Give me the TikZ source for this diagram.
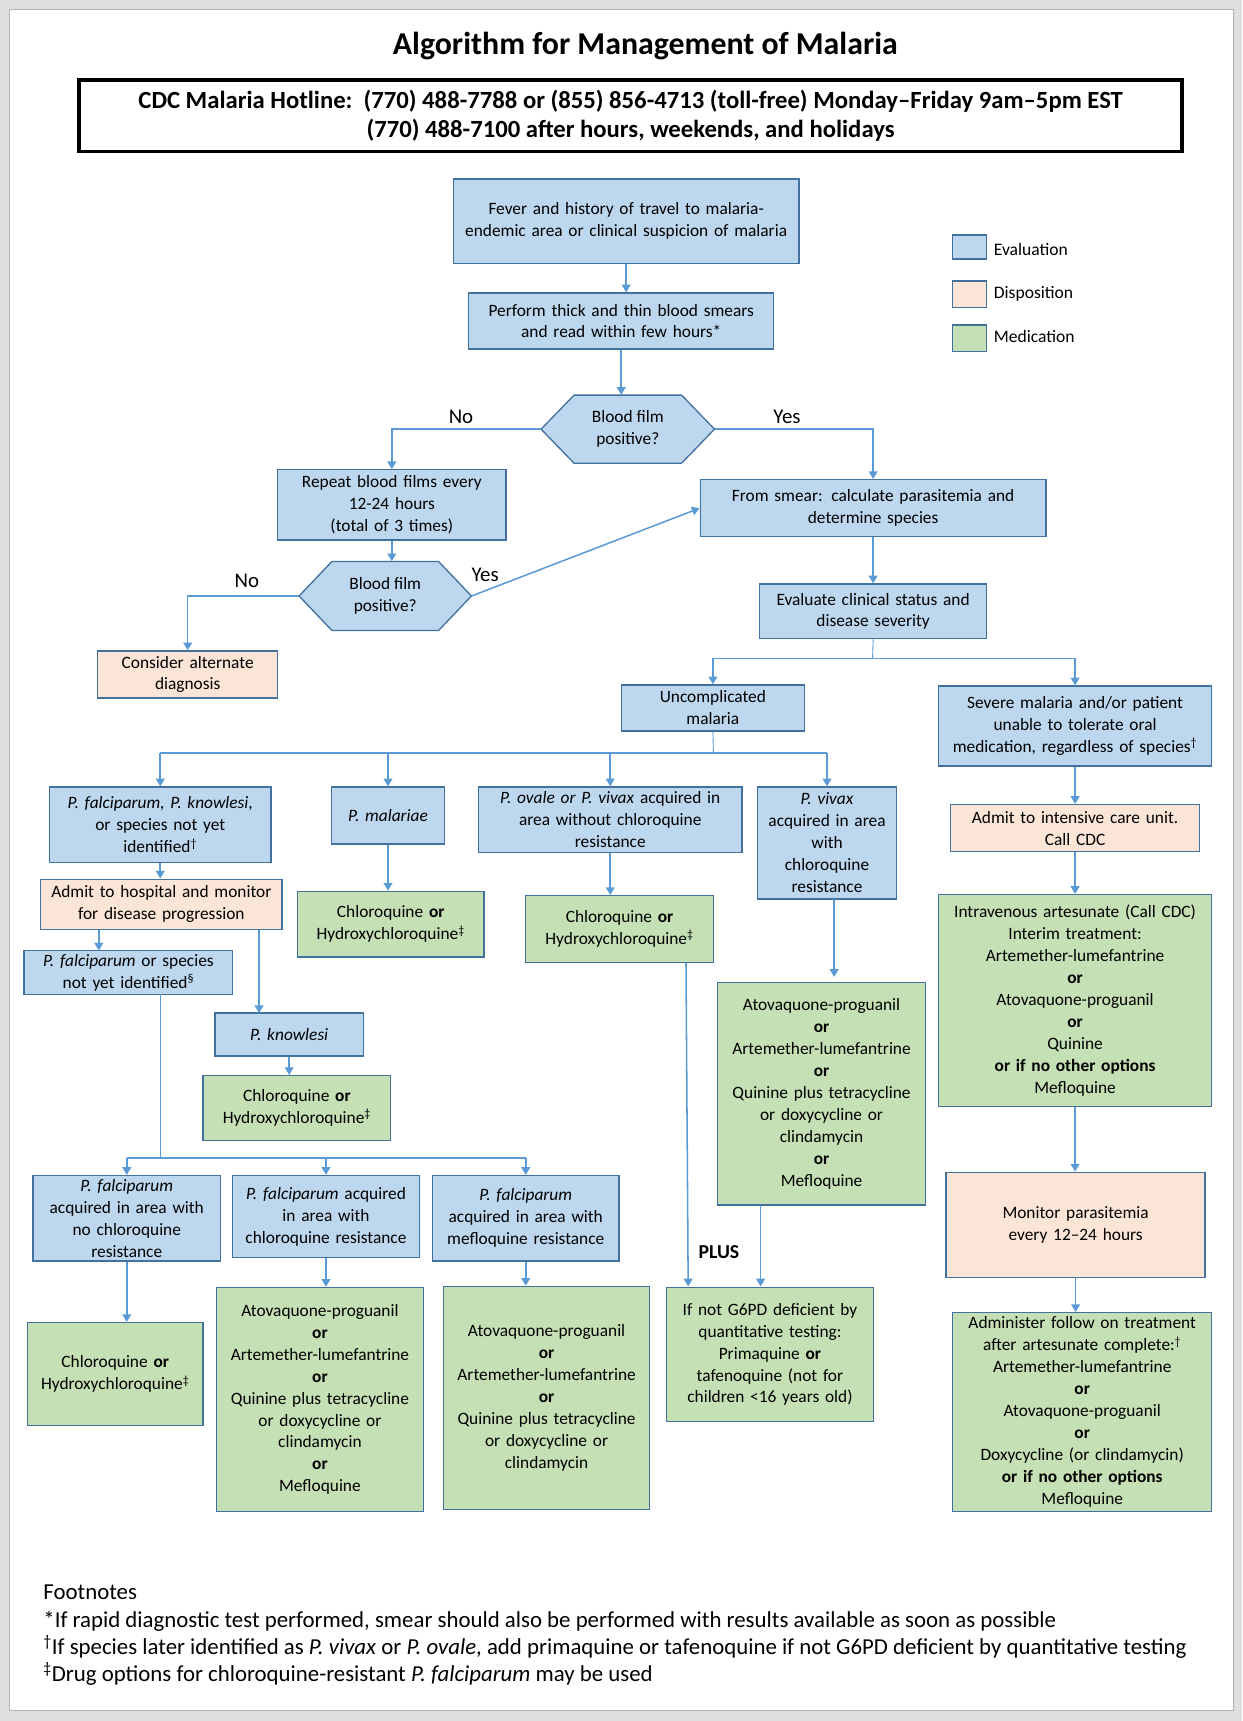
\documentclass[tikz,border=0pt]{standalone}
\usepackage{fontspec}
\setmainfont{Carlito}
\usetikzlibrary{arrows.meta}
\definecolor{bfill}{HTML}{BDD7EE}
\definecolor{pfill}{HTML}{FBE5D6}
\definecolor{gfill}{HTML}{C5E0B4}
\definecolor{bdr}{HTML}{41719C}
\definecolor{arc}{HTML}{5B9BD5}
\tikzset{
 box/.style={draw=bdr,line width=1.2pt,align=center,inner sep=1pt,font=\fontsize{15.8}{20}\selectfont},
 ev/.style={box,fill=bfill},
 dp/.style={box,fill=pfill},
 md/.style={box,fill=gfill},
 arr/.style={draw=arc,line width=1.4pt,-{Triangle[length=7pt,width=8pt]}},
 ln/.style={draw=arc,line width=1.4pt},
 lab/.style={font=\fontsize{19}{22}\selectfont},
 leg/.style={anchor=west,font=\fontsize{16}{19}\selectfont},
}
\newcommand\bx[7]{\pgfmathsetmacro\bw{#5-#3}\pgfmathsetmacro\bh{#6-#4}\pgfmathsetmacro\tw{#5-#3-2}%
 \node[#1,minimum width=\bw pt,minimum height=\bh pt,text width=\tw pt] (#2) at ({(#3+#5)/2},{(#4+#6)/2}) {#7};}
\newcommand\hx[6]{\pgfmathsetmacro\hw{#4/2}\pgfmathsetmacro\hh{#5/2}\pgfmathsetmacro\hc{#4/2-30}%
 \draw[draw=bdr,line width=1.2pt,fill=bfill] (#2-\hw,#3) -- (#2-\hc,#3-\hh) -- (#2+\hc,#3-\hh) -- (#2+\hw,#3) -- (#2+\hc,#3+\hh) -- (#2-\hc,#3+\hh) -- cycle;
 \node[inner sep=0pt,minimum width=#4 pt,minimum height=#5 pt,align=center,font=\fontsize{15.8}{20}\selectfont] (#1) at (#2,#3) {#6};}
\newcommand\va[2]{\draw[arr] (#1.south) -- (#1.south |- #2.north);}
\hyphenpenalty=10000 \exhyphenpenalty=10000
\begin{document}
\hyphenpenalty=10000 \exhyphenpenalty=10000
\begin{tikzpicture}[x=1pt,y=-1pt]
\useasboundingbox (0,0) rectangle (1132,1568);
\fill[gray!25] (0,0) rectangle (1132,1568);
\fill[white,draw=gray!60] (8,8) rectangle (1124,1558);
\node[font=\fontsize{29}{32}\selectfont\bfseries] (title) at (588,42) {Algorithm for Management of Malaria};
\node[draw,line width=3pt,minimum width=1005pt,minimum height=65pt,align=center,font=\fontsize{22.5}{27}\selectfont\bfseries] (hot) at (574.5,105.5) {CDC Malaria Hotline:\ \ (770) 488-7788 or (855) 856-4713 (toll-free) Monday--Friday 9am--5pm EST\\(770) 488-7100 after hours, weekends, and holidays};
% legend
\draw[draw=bdr,line width=1.2pt,fill=bfill] (868,214) rectangle (899,236);
\draw[draw=bdr,line width=1.2pt,fill=pfill] (868,256) rectangle (899,280);
\draw[draw=bdr,line width=1.2pt,fill=gfill] (868,296) rectangle (899,320);
\node[leg] (lt1) at (902,227) {Evaluation};
\node[leg] (lt2) at (902,268) {Disposition};
\node[leg] (lt3) at (902,307) {Medication};
% nodes
\bx{ev}{n1}{413}{163}{728}{240}{Fever and history of travel to malaria-\\endemic area or clinical suspicion of malaria}
\bx{ev}{n2}{427}{267}{705}{318}{Perform thick and thin blood smears\\and read within few hours*}
\hx{d1}{572}{391}{158}{62}{Blood film\\positive?}
\bx{ev}{n3}{253}{428}{461}{492}{Repeat blood films every\\12-24 hours\\(total of 3 times)}
\bx{ev}{n4}{638}{437}{953}{489}{From smear: calculate parasitemia and\\determine species}
\hx{d2}{351}{543}{157}{63}{Blood film\\positive?}
\bx{dp}{n5}{89}{593}{253}{636}{Consider alternate\\diagnosis}
\bx{ev}{n6}{692}{532}{899}{582}{Evaluate clinical status and\\disease severity}
\bx{ev}{n7}{566}{624}{733}{666}{Uncomplicated\\malaria}
\bx{ev}{n8}{855}{625}{1104}{698}{Severe malaria and/or patient\\unable to tolerate oral\\medication, regardless of species\textsuperscript{\dag}}
\bx{ev}{n9}{45}{717}{247}{786}{\textit{P. falciparum, P. knowlesi},\\or species not yet\\identified\textsuperscript{\dag}}
\bx{ev}{n10}{302}{717}{405}{769}{\textit{P. malariae}}
\bx{ev}{n11}{436}{717}{676}{777}{\textit{P. ovale or P. vivax} acquired in\\area without chloroquine\\resistance}
\bx{ev}{n12}{690}{717}{817}{819}{\textit{P. vivax}\\acquired in area\\with\\chloroquine\\resistance}
\bx{dp}{n13}{866}{733}{1093}{776}{Admit to intensive care unit.\\Call CDC}
\bx{md}{n14}{855}{815}{1104}{1008}{Intravenous artesunate (Call CDC)\\Interim treatment:\\Artemether-lumefantrine\\\textbf{or}\\Atovaquone-proguanil\\\textbf{or}\\Quinine\\\textbf{or if no other options}\\Mefloquine}
\bx{dp}{n15}{862}{1068}{1098}{1164}{Monitor parasitemia\\every 12--24 hours}
\bx{md}{n16}{868}{1196}{1104}{1377}{Administer follow on treatment\\after artesunate complete:\textsuperscript{\dag}\\Artemether-lumefantrine\\\textbf{or}\\Atovaquone-proguanil\\\textbf{or}\\Doxycycline (or clindamycin)\\\textbf{or if no other options}\\Mefloquine}
\bx{dp}{n17}{37}{801}{257}{847}{Admit to hospital and monitor\\for disease progression}
\bx{md}{n18}{271}{812}{441}{872}{Chloroquine \textbf{or}\\Hydroxychloroquine\textsuperscript{\ddag}}
\bx{md}{n19}{479}{816}{650}{877}{Chloroquine \textbf{or}\\Hydroxychloroquine\textsuperscript{\ddag}}
\bx{md}{n20}{654}{895}{843}{1098}{Atovaquone-proguanil\\\textbf{or}\\Artemether-lumefantrine\\\textbf{or}\\Quinine plus tetracycline\\or doxycycline or\\clindamycin\\\textbf{or}\\Mefloquine}
\bx{ev}{n21}{22}{866}{212}{906}{\textit{P. falciparum} or species\\not yet identified\textsuperscript{\S}}
\bx{ev}{n22}{196}{923}{331}{962}{\textit{P. knowlesi}}
\bx{md}{n23}{185}{980}{356}{1039}{Chloroquine \textbf{or}\\Hydroxychloroquine\textsuperscript{\ddag}}
\bx{ev}{n24}{30}{1071}{201}{1149}{\textit{P. falciparum}\\acquired in area with\\no chloroquine\\resistance}
\bx{ev}{n25}{212}{1071}{382}{1146}{\textit{P. falciparum} acquired\\in area with\\chloroquine resistance}
\bx{ev}{n26}{394}{1071}{564}{1149}{\textit{P. falciparum}\\acquired in area with\\mefloquine resistance}
\bx{md}{n27}{25}{1205}{185}{1299}{Chloroquine \textbf{or}\\Hydroxychloroquine\textsuperscript{\ddag}}
\bx{md}{n28}{197}{1173}{386}{1377}{Atovaquone-proguanil\\\textbf{or}\\Artemether-lumefantrine\\\textbf{or}\\Quinine plus tetracycline\\or doxycycline or\\clindamycin\\\textbf{or}\\Mefloquine}
\bx{md}{n29}{404}{1172}{592}{1375}{Atovaquone-proguanil\\\textbf{or}\\Artemether-lumefantrine\\\textbf{or}\\Quinine plus tetracycline\\or doxycycline or\\clindamycin}
\bx{md}{n30}{607}{1173}{796}{1295}{If not G6PD deficient by\\quantitative testing:\\Primaquine \textbf{or}\\tafenoquine (not for\\children {<}16 years old)}
% connectors
\va{n1}{n2}
\va{n2}{d1}
\draw[arr] (d1.west) -| (n3.north);
\draw[arr] (d1.east) -| (n4.north);
\node[lab] (no1) at (420,380) {No};
\node[lab] (yes1) at (717,380) {Yes};
\va{n3}{d2}
\draw[arr] (d2.west) -| (n5.north);
\draw[arr] (d2.east) -- (n4.west);
\node[lab] (no2) at (225,529) {No};
\node[lab] (yes2) at (442,524) {Yes};
\va{n4}{n6}
\coordinate (b1) at (795,600);
\draw[draw=arc,line width=0.8pt] (n6.south) -- (b1);
\draw[arr] (b1) -| (n7.north);
\draw[arr] (b1) -| (n8.north);
\coordinate (b2) at (650,686);
\draw[draw=arc,line width=0.8pt] (n7.south) -- (b2);
\draw[ln] (b2 -| n9.north) -- (b2 -| n12.north);
\draw[arr] (b2 -| n9.north) -- (n9.north);
\draw[arr] (b2 -| n10.north) -- (n10.north);
\draw[arr] (b2 -| n11.north) -- (n11.north);
\draw[arr] (b2 -| n12.north) -- (n12.north);
\va{n8}{n13}
\va{n13}{n14}
\va{n14}{n15}
\va{n15}{n16}
\va{n9}{n17}
\va{n10}{n18}
\va{n11}{n19}
\coordinate (c12) at (760,819);
\draw[arr] (c12) -- (760,890);
\coordinate (c17a) at (90,847);
\coordinate (c17b) at (236,847);
\draw[arr] (c17a) -- (90,866);
\draw[arr] (c17b) -- (236,923);
\va{n22}{n23}
\coordinate (b3) at (146,1055);
\draw[draw=arc,line width=0.8pt] (146,906) -- (b3);
\draw[ln] (b3 -| n24.north) -- (b3 -| n26.north);
\draw[arr] (b3 -| n24.north) -- (n24.north);
\draw[arr] (b3 -| n25.north) -- (n25.north);
\draw[arr] (b3 -| n26.north) -- (n26.north);
\va{n24}{n27}
\va{n25}{n28}
\va{n26}{n29}
\coordinate (c19) at (625,877);
\draw[arr] (c19) -- (627,1172);
\coordinate (c20) at (693,1098);
\draw[arr] (c20) -- (693,1172);
\node[font=\fontsize{18}{20}\selectfont\bfseries] (plus) at (655,1141) {PLUS};
% footnotes
\node[anchor=west,align=left,font=\fontsize{20.8}{25}\selectfont] (fn) at (36,1490) {Footnotes\\*If rapid diagnostic test performed, smear should also be performed with results available as soon as possible\\\textsuperscript{\dag}If species later identified as \textit{P. vivax} or \textit{P. ovale}, add primaquine or tafenoquine if not G6PD deficient by quantitative testing\\\textsuperscript{\ddag}Drug options for chloroquine-resistant \textit{P. falciparum} may be used};
\end{tikzpicture}
\end{document}
